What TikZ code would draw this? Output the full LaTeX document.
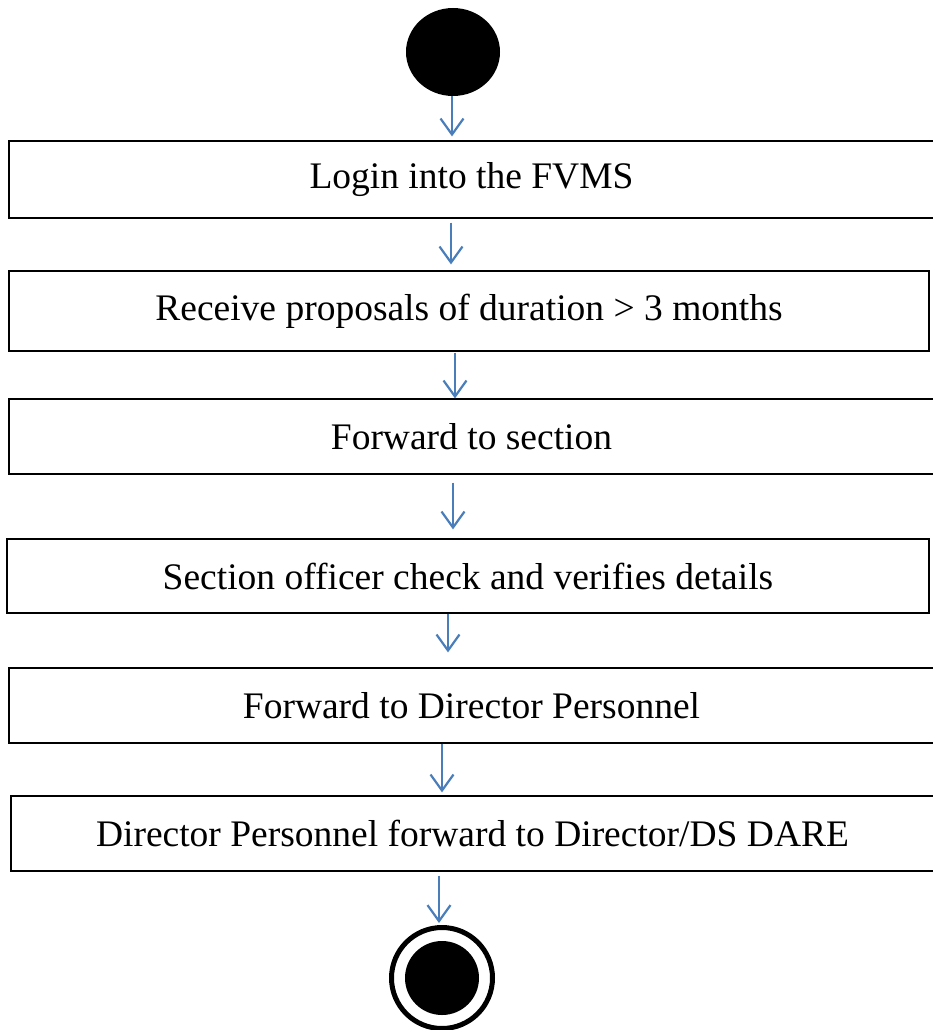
\documentclass[tikz,border=0pt]{standalone}
\usepackage{fontspec}
\setmainfont{Liberation Serif}
\usetikzlibrary{arrows.meta,shapes.geometric}
\definecolor{flowblue}{RGB}{74,126,187}

\begin{document}
\begin{tikzpicture}[
    x=1pt, y=-1pt,
    activity/.style = {shape=rectangle, draw, line width=1.2pt,
      inner sep=0pt, font=\fontsize{37.5}{40}\selectfont},
    flow/.style = {draw=flowblue, line width=2.2pt,
      -{Straight Barb[length=16pt,width=23pt,line width=2.2pt]}},
    ]
  \useasboundingbox (0,0) rectangle (932,1030);

  \node[ellipse, fill=black, minimum width=94pt, minimum height=88pt] (start) at (453,52) {};

  \node[activity, minimum width=925pt, minimum height=77pt] (login) at (471.5,179.5) {Login into the FVMS};
  \node[activity, minimum width=920pt, minimum height=80pt] (receive) at (469,311) {Receive proposals of duration > 3 months};
  \node[activity, minimum width=925pt, minimum height=75pt] (forward) at (471.5,436.5) {Forward to section};
  \node[activity, minimum width=922pt, minimum height=74pt] (check) at (468,576) {Section officer check and verifies details};
  \node[activity, minimum width=925pt, minimum height=75pt] (dirpers) at (471.5,705.5) {Forward to Director Personnel};
  \node[activity, minimum width=923pt, minimum height=75pt] (dare) at (472.5,833.5) {Director Personnel forward to Director/DS DARE};

  \node[circle, draw, line width=5pt, minimum size=101pt, inner sep=0pt] (finish) at (442,978) {};
  \fill (finish.center) circle (37pt);

  % flows between activities
  \draw[flow, shorten >=4pt] (start.south -| 452,0) -- (login.north -| 452,0);
  \draw[flow, shorten <=4pt, shorten >=6pt] (login.south -| 451,0) -- (receive.north -| 451,0);
  \draw[flow, shorten <=1pt] (receive.south -| 455,0) -- (forward.north -| 455,0);
  \draw[flow, shorten <=8pt, shorten >=9pt] (forward.south -| 453,0) -- (check.north -| 453,0);
  \draw[flow, shorten >=15pt] (check.south -| 448,0) -- (dirpers.north -| 448,0);
  \draw[flow, shorten >=3pt] (dirpers.south -| 442,0) -- (dare.north -| 442,0);
  \draw[flow, shorten <=4pt, shorten >=2pt] (dare.south -| 439,0) -- (finish.north -| 439,0);
\end{tikzpicture}
\end{document}
